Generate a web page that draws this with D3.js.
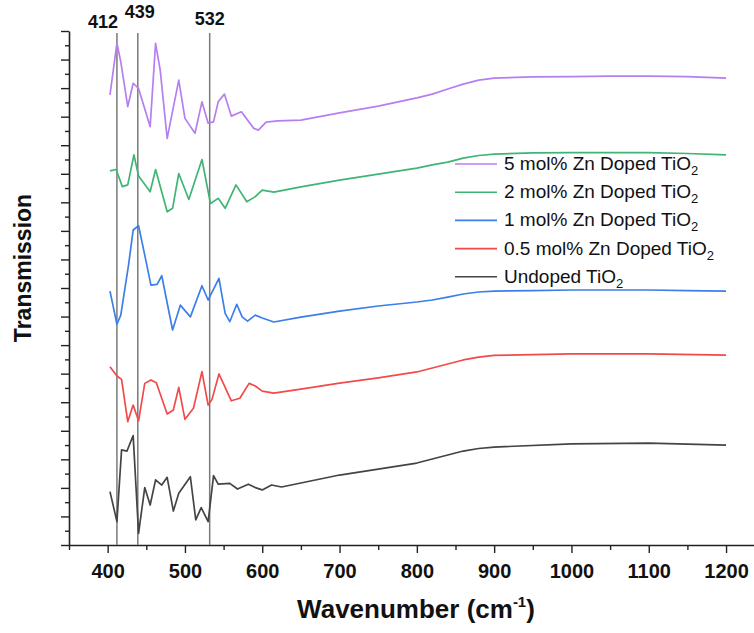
<!DOCTYPE html>
<html>
<head>
<meta charset="utf-8">
<script src="https://cdn.jsdelivr.net/npm/d3@7"></script>
<style>
  body { margin: 0; background: #fff; }
  #chart { width: 754px; height: 633px; }
  svg text { font-family: "Liberation Sans", Arial, sans-serif; fill: #111; }
</style>
</head>
<body>
<div id="chart"></div>
<script>
// FTIR spectra, values (arbitrary transmission units, stacked)
const undopedTiO2 = [[403,1.87],[412,0.82],[418,3.33],[425,3.29],[433,3.83],[440,0.41],[448,2.01],[455,1.40],[462,2.28],[470,2.10],[477,2.37],[485,1.19],[492,1.81],[507,2.39],[514,0.88],[521,1.31],[530,0.82],[537,2.43],[543,2.13],[558,2.16],[568,1.96],[582,2.13],[591,2.01],[600,1.93],[612,2.10],[625,2.03],[650,2.17],[700,2.45],[750,2.66],[800,2.87],[820,3.01],[840,3.15],[860,3.29],[880,3.38],[900,3.43],[1000,3.54],[1100,3.57],[1200,3.50]];
const zn05TiO2 = [[403,6.24],[412,5.92],[418,5.80],[426,4.32],[433,4.90],[440,4.35],[448,5.66],[456,5.78],[463,5.68],[477,4.59],[485,4.73],[492,5.52],[500,4.40],[511,4.79],[522,6.07],[530,4.90],[535,5.10],[544,5.99],[560,5.05],[571,5.14],[583,5.66],[591,5.57],[600,5.39],[615,5.32],[650,5.46],[700,5.67],[750,5.85],[800,6.06],[820,6.20],[840,6.34],[860,6.48],[880,6.58],[900,6.64],[1000,6.69],[1100,6.69],[1200,6.65]];
const zn1TiO2 = [[403,8.89],[412,7.73],[417,8.05],[427,9.80],[433,11.03],[440,11.18],[448,10.15],[456,9.10],[464,9.13],[470,9.43],[484,7.53],[494,8.40],[507,7.99],[522,9.08],[530,8.58],[544,9.34],[552,8.11],[558,7.82],[567,8.43],[574,7.99],[581,7.84],[591,8.05],[600,7.95],[615,7.81],[650,7.98],[700,8.19],[750,8.37],[800,8.51],[820,8.58],[840,8.68],[860,8.79],[880,8.86],[900,8.89],[950,8.91],[1000,8.93],[1100,8.93],[1150,8.91],[1200,8.89]];
const zn2TiO2 = [[403,13.10],[411,13.15],[419,12.55],[426,12.61],[434,13.66],[440,12.92],[455,12.37],[462,13.15],[477,11.67],[484,11.79],[492,13.01],[505,12.10],[522,13.50],[533,11.96],[543,12.14],[552,11.79],[566,12.61],[580,12.02],[591,12.20],[600,12.43],[615,12.36],[650,12.54],[700,12.78],[750,12.99],[800,13.20],[820,13.31],[840,13.41],[860,13.55],[880,13.64],[900,13.69],[950,13.73],[1000,13.74],[1100,13.74],[1150,13.71],[1200,13.66]];
const zn5TiO2 = [[403,15.76],[412,17.57],[417,16.92],[426,15.35],[433,16.17],[440,15.99],[455,14.65],[462,17.57],[468,16.63],[477,14.24],[492,16.28],[500,14.94],[513,14.42],[522,15.52],[530,14.77],[537,14.82],[543,15.52],[551,15.79],[560,15.02],[573,15.17],[589,14.59],[595,14.53],[605,14.81],[620,14.85],[650,14.88],[700,15.13],[750,15.37],[800,15.66],[820,15.79],[840,15.97],[860,16.14],[880,16.28],[900,16.35],[950,16.39],[1000,16.40],[1050,16.42],[1100,16.42],[1150,16.40],[1200,16.35]];

// legend order, top to bottom
const seriesLabels = ["5 mol% Zn Doped TiO", "2 mol% Zn Doped TiO", "1 mol% Zn Doped TiO", "0.5 mol% Zn Doped TiO", "Undoped TiO"];
const seriesData = [zn5TiO2, zn2TiO2, zn1TiO2, zn05TiO2, undopedTiO2];
const seriesColors = ["#b67ff0", "#3fb574", "#3c7fe8", "#f24a4a", "#444444"];

const peakPositions = [412, 439, 532];
const xTickValues = [400, 500, 600, 700, 800, 900, 1000, 1100, 1200];
const xMinorTicks = [350, 450, 550, 650, 750, 850, 950, 1050, 1150, 1250];

class SpectraChart {
  constructor(parentElement) {
    this.parentElement = parentElement;
  }

  initVis() {
    let vis = this;

    vis.margin = { top: 31, left: 69 };
    vis.height = 545 - vis.margin.top;

    vis.svg = d3
      .select("#" + vis.parentElement)
      .append("svg")
      .attr("width", 754)
      .attr("height", 633)
      .append("g")
      .attr("transform", "translate(" + vis.margin.left + "," + vis.margin.top + ")");

    // axis runs past the right edge of the picture
    vis.x = d3.scaleLinear().domain([350, 1250]).range([0, 695.7]);
    vis.y = d3.scaleLinear().domain([0, 18]).range([vis.height, 0]);

    vis.line = d3
      .line()
      .x(function (d) { return vis.x(d[0]); })
      .y(function (d) { return vis.y(d[1]); });

    vis.drawAxes();
    vis.drawPeaks();
    vis.drawSeries();
    vis.drawLegend();
  }

  drawAxes() {
    let vis = this;

    // minor ticks first
    vis.svg
      .append("g")
      .attr("class", "x-minor")
      .attr("transform", "translate(0," + vis.height + ")")
      .call(d3.axisBottom(vis.x).tickValues(xMinorTicks).tickSize(5).tickFormat(""))
      .call(function (g) { g.select(".domain").remove(); });

    vis.svg
      .append("g")
      .attr("class", "y-minor")
      .call(d3.axisLeft(vis.y).tickValues(d3.range(0.5, 18, 1)).tickSize(4).tickFormat(""))
      .call(function (g) { g.select(".domain").remove(); });

    vis.svg
      .append("g")
      .attr("class", "x-axis")
      .attr("transform", "translate(0," + vis.height + ")")
      .call(d3.axisBottom(vis.x).tickValues(xTickValues).tickSize(8).tickSizeOuter(0).tickPadding(11).tickFormat(d3.format("d")));

    vis.svg
      .append("g")
      .attr("class", "y-axis")
      .call(d3.axisLeft(vis.y).tickValues(d3.range(0, 18.5, 1)).tickSize(8).tickSizeOuter(0).tickFormat(""));

    vis.svg.selectAll(".domain").attr("stroke", "#222").attr("stroke-width", 1.6);
    vis.svg.selectAll(".tick line").attr("stroke", "#222").attr("stroke-width", 1.4);
    vis.svg
      .select(".x-axis")
      .selectAll("text")
      .attr("font-size", "20px")
      .attr("font-weight", "bold")
      .attr("fill", "#111");

    let xTitle = vis.svg
      .append("text")
      .attr("x", 347)
      .attr("y", vis.height + 73)
      .attr("text-anchor", "middle")
      .attr("font-size", "26px")
      .attr("font-weight", "bold")
      .text("Wavenumber (cm");
    xTitle.append("tspan").attr("font-size", "15px").attr("dy", -11).text("-1");
    xTitle.append("tspan").attr("dy", 11).text(")");

    vis.svg
      .append("text")
      .attr("transform", "rotate(-90)")
      .attr("x", -237)
      .attr("y", -38)
      .attr("text-anchor", "middle")
      .attr("font-size", "23px")
      .attr("font-weight", "bold")
      .text("Transmission");
  }

  drawPeaks() {
    let vis = this;
    let labelPos = { 412: { dx: 1, y: -3, anchor: "end" }, 439: { dx: 2, y: -13, anchor: "middle" }, 532: { dx: 0, y: -6, anchor: "middle" } };

    vis.svg
      .selectAll(".peak-line")
      .data(peakPositions)
      .enter()
      .append("line")
      .attr("class", "peak-line")
      .attr("x1", function (d) { return vis.x(d); })
      .attr("x2", function (d) { return vis.x(d); })
      .attr("y1", 2)
      .attr("y2", vis.height)
      .attr("stroke", "#7a7a7a")
      .attr("stroke-width", 1.5);

    vis.svg
      .selectAll(".peak-label")
      .data(peakPositions)
      .enter()
      .append("text")
      .attr("class", "peak-label")
      .attr("x", function (d) { return vis.x(d) + labelPos[d].dx; })
      .attr("y", function (d) { return labelPos[d].y; })
      .attr("text-anchor", function (d) { return labelPos[d].anchor; })
      .attr("font-size", "18px")
      .attr("font-weight", "bold")
      .text(function (d) { return d; });
  }

  drawSeries() {
    let vis = this;

    // draw bottom curve first
    let order = seriesData.map(function (d, i) { return i; }).reverse();

    vis.svg
      .selectAll(".spectrum")
      .data(order)
      .enter()
      .append("path")
      .attr("class", "spectrum")
      .attr("d", function (i) { return vis.line(seriesData[i]); })
      .attr("fill", "none")
      .attr("stroke", function (i) { return seriesColors[i]; })
      .attr("stroke-width", 1.7)
      .attr("stroke-linejoin", "round");
  }

  drawLegend() {
    let vis = this;

    let legend = vis.svg
      .append("g")
      .attr("class", "legend")
      .attr("transform", "translate(" + (455 - vis.margin.left) + "," + (164 - vis.margin.top) + ")");

    let items = legend
      .selectAll("g")
      .data(seriesLabels)
      .enter()
      .append("g")
      .attr("transform", function (d, i) { return "translate(0," + i * 28.2 + ")"; });

    items
      .append("line")
      .attr("x1", 0)
      .attr("x2", 42)
      .attr("stroke", function (d, i) { return seriesColors[i]; })
      .attr("stroke-width", 1.6);

    let label = items
      .append("text")
      .attr("x", 49)
      .attr("y", 6)
      .attr("font-size", "19px")
      .text(function (d) { return d; });

    label.append("tspan").attr("font-size", "13px").attr("dy", 5).text("2");
  }
}

let chart = new SpectraChart("chart");
chart.initVis();
</script>
</body>
</html>
